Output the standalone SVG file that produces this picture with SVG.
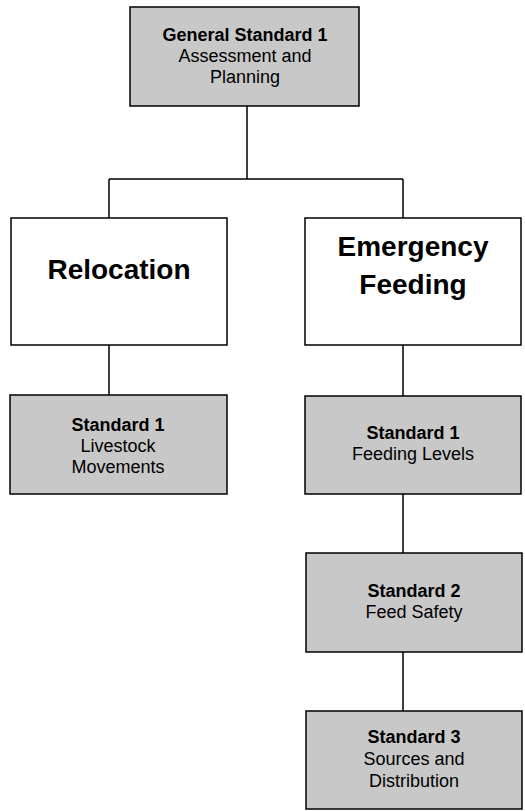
<svg xmlns="http://www.w3.org/2000/svg" width="525" height="811" viewBox="0 0 525 811">
<style>
.box{stroke:#000;stroke-width:1.5}
.g{fill:#c8c8c8}
.w{fill:#fff}
text{font-family:"Liberation Sans",Arial,sans-serif;text-anchor:middle;fill:#000}
.t{font-size:18px}
.b{font-weight:bold}
.big{font-size:28px;font-weight:bold}
.conn{stroke:#000;stroke-width:1.5;fill:none}
</style>
<rect width="525" height="811" fill="#fff"/>
<g id="connectors">
<path class="conn" d="M247 106V179M109 179H403M109 179V218M403 179V218"/>
<path class="conn" d="M109 345V395M403 345V396M403 494V553M403 652V711"/>
</g>
<g id="general">
<rect class="box g" x="130" y="7" width="229" height="99"/>
<text class="t" x="245" y="41"><tspan class="b">General Standard 1</tspan><tspan x="245" dy="21">Assessment and</tspan><tspan x="245" dy="21">Planning</tspan></text>
</g>
<g id="relocation">
<rect class="box w" x="11" y="218" width="216" height="127"/>
<text class="big" x="119" y="279">Relocation</text>
</g>
<g id="emergency">
<rect class="box w" x="305" y="218" width="216" height="127"/>
<text class="big" x="413" y="256">Emergency<tspan x="413" dy="38">Feeding</tspan></text>
</g>
<g id="reloc-std1">
<rect class="box g" x="10" y="395" width="217" height="99"/>
<text class="t" x="118" y="431"><tspan class="b">Standard 1</tspan><tspan x="118" dy="21">Livestock</tspan><tspan x="118" dy="21">Movements</tspan></text>
</g>
<g id="feed-std1">
<rect class="box g" x="305" y="396" width="216" height="98"/>
<text class="t" x="413" y="439"><tspan class="b">Standard 1</tspan><tspan x="413" dy="21">Feeding Levels</tspan></text>
</g>
<g id="feed-std2">
<rect class="box g" x="306" y="553" width="216" height="99"/>
<text class="t" x="414" y="597"><tspan class="b">Standard 2</tspan><tspan x="414" dy="21">Feed Safety</tspan></text>
</g>
<g id="feed-std3">
<rect class="box g" x="306" y="711" width="216" height="98"/>
<text class="t" x="414" y="743"><tspan class="b">Standard 3</tspan><tspan x="414" dy="22">Sources and</tspan><tspan x="414" dy="22">Distribution</tspan></text>
</g>
</svg>
